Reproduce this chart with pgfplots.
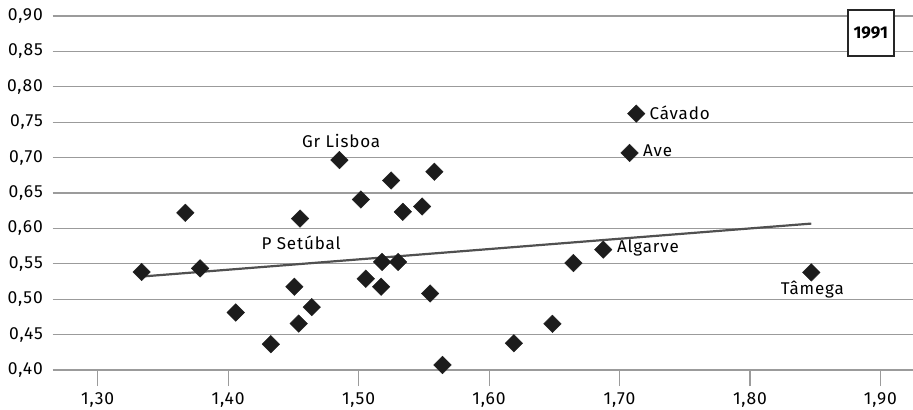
\documentclass[border=0pt]{standalone}
\usepackage{fontspec}
\setmainfont{Fira Sans}[LetterSpace=5]
\usepackage{pgfplots}
\pgfplotsset{compat=1.18}
\definecolor{gridgray}{RGB}{155,155,155}
\definecolor{markblack}{RGB}{28,28,28}
\definecolor{trendgray}{RGB}{80,80,80}
\begin{document}
\fontsize{17bp}{20bp}\selectfont
\begin{tikzpicture}
\begin{axis}[
  at={(0,0)}, anchor=south west,
  scale only axis,
  width=860.3bp, height=354bp,
  xmin=1.2655, xmax=1.925,
  ymin=0.40, ymax=0.90,
  xtick={1.3,1.4,1.5,1.6,1.7,1.8,1.9},
  ytick={0.40,0.45,0.50,0.55,0.60,0.65,0.70,0.75,0.80,0.85,0.90},
  tick pos=left,
  ymajorgrids,
  grid style={gridgray, line width=1.1bp},
  axis line style={draw=none},
  xtick align=outside,
  ytick align=inside,
  xtick style={gridgray, line width=1.1bp},
  major tick length=16bp,
  ytick style={draw=none},
  xticklabel style={yshift=-1bp},
  yticklabel style={anchor=east, xshift=-4bp},
  /pgf/number format/.cd, fixed, fixed zerofill, precision=2, use comma, assume math mode=true,
  /pgfplots/.cd,
  clip=false,
  tick label style={font=\fontsize{17.5bp}{20bp}\selectfont},
]
\addplot[trendgray, line width=2.2bp] coordinates {(1.3337,0.532) (1.847,0.6068)};
\addplot[only marks, mark=square*, mark size=6.2bp, mark options={rotate=45, fill=markblack, draw=markblack}] coordinates {
(1.3337,0.5384)
(1.3672,0.6220)
(1.3785,0.5435)
(1.4058,0.4812)
(1.4327,0.4364)
(1.4508,0.5176)
(1.4541,0.4656)
(1.4551,0.6139)
(1.4641,0.4888)
(1.4853,0.6965)
(1.5017,0.6408)
(1.5055,0.5289)
(1.5173,0.5176)
(1.5180,0.5526)
(1.5249,0.6677)
(1.5303,0.5526)
(1.5339,0.6234)
(1.5487,0.6309)
(1.5548,0.5081)
(1.5581,0.6800)
(1.5643,0.4071)
(1.6190,0.4378)
(1.6486,0.4652)
(1.6647,0.5511)
(1.6875,0.5700)
(1.7077,0.7065)
(1.7128,0.7621)
(1.8470,0.5378)
};
\node[anchor=base, inner sep=0pt] at (axis cs:1.4866,0.7140) {Gr Lisboa};
\node[anchor=base, inner sep=0pt] at (axis cs:1.4559,0.5700) {P Setúbal};
\node[anchor=base west, inner sep=0pt] at (axis cs:1.7230,0.7541) {Cávado};
\node[anchor=base west, inner sep=0pt] at (axis cs:1.7179,0.7021) {Ave};
\node[anchor=base west, inner sep=0pt] at (axis cs:1.6980,0.5653) {Algarve};
\node[anchor=base, inner sep=0pt] at (axis cs:1.8478,0.5062) {Tâmega};
\node[draw=black!85, fill=white, line width=1.8bp, minimum width=46bp, minimum height=46bp, inner sep=0pt, font=\bfseries\fontsize{17bp}{19bp}\selectfont] at (axis cs:1.8926,0.8765) {\addfontfeatures{LetterSpace=0}1991};
\end{axis}
\pgfresetboundingbox
\path[use as bounding box] (-52.7bp,-40bp) rectangle (860.3bp,370bp);
\end{tikzpicture}
\end{document}
